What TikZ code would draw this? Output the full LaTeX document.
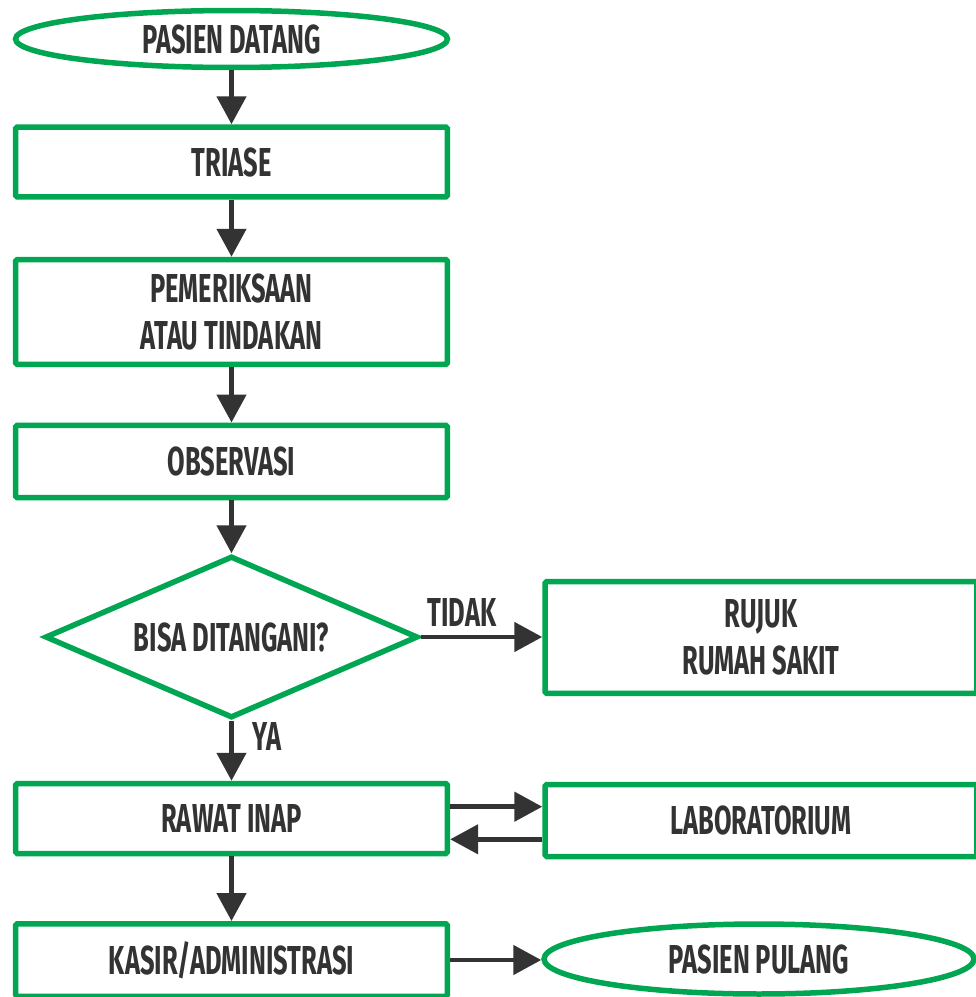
\documentclass[tikz,border=0pt]{standalone}
\usepackage{fontspec}
\setmainfont[FakeStretch=0.63]{Fira Sans}
\usetikzlibrary{shapes.geometric,arrows.meta}
\definecolor{hijau}{HTML}{00A651}
\definecolor{gelap}{HTML}{333333}
\newcommand\hurufalur{\bfseries\fontsize{23}{27}\selectfont}

\begin{document}
\begin{tikzpicture}[x=0.02cm,y=-0.02cm]
\tikzstyle{every node}+=[inner sep=0pt, text=gelap, font=\hurufalur, align=center]
\tikzstyle{kotak}=[draw=hijau, line width=0.11cm, rounded corners=1pt, fill=white, minimum width=8.64cm, minimum height=1.4cm]
\tikzstyle{elips}=[draw=hijau, line width=0.11cm, ellipse, fill=white]
\tikzstyle{pilih}=[draw=hijau, line width=0.11cm, diamond, aspect=3, fill=white, minimum width=7.46cm, minimum height=3.24cm]
\tikzstyle{panah}=[draw=gelap, line width=0.095cm, -{Triangle[length=0.56cm,width=0.58cm]}]
\fill [white] (0,0) rectangle (976,997);
\useasboundingbox (0,0) rectangle (976,997);
\node [elips, minimum width=8.64cm, minimum height=1.14cm] (datang) at (231.5,39) {PASIEN DATANG};
\node [kotak] (triase) at (231.5,162) {TRIASE};
\node [kotak, minimum height=2.1cm] (periksa) at (231.5,312) {PEMERIKSAAN\\ATAU TINDAKAN};
\node [kotak, minimum height=1.45cm] (observasi) at (231.5,461.5) {OBSERVASI};
\node [pilih] (bisa) at (231.5,637) {BISA DITANGANI?};
\node [kotak, minimum height=2.24cm] (rujuk) at (761,637.5) {RUJUK\\RUMAH SAKIT};
\node [kotak] (rawat) at (231.5,818.5) {RAWAT INAP};
\node [kotak, minimum height=1.44cm] (lab) at (761,820.5) {LABORATORIUM};
\node [kotak, minimum height=1.45cm] (kasir) at (231.5,960) {KASIR/ADMINISTRASI};
\node [elips, minimum width=8.6cm, minimum height=1.4cm] (pulang) at (759,959) {PASIEN PULANG};
\draw [panah] (datang) -- (triase);
\draw [panah] (triase) -- (periksa);
\draw [panah] (periksa) -- (observasi);
\draw [panah] (observasi) -- (bisa);
\draw [panah] (bisa.east) -- node [pos=0.34, above=0.16cm] {TIDAK} (bisa.east -| rujuk.west);
\draw [panah] (bisa.south) -- node [pos=0, anchor=north west, xshift=0.37cm, yshift=0.02cm] {YA} (rawat.north);
\draw [panah] ([yshift=0.236cm]rawat.east) -- ([yshift=0.236cm]rawat.east -| lab.west);
\draw [panah] ([yshift=-0.416cm]rawat.east -| lab.west) -- ([yshift=-0.416cm]rawat.east);
\draw [panah] (rawat) -- (kasir);
\draw [panah] (kasir.east) -- (kasir.east -| pulang.west);
\end{tikzpicture}
\end{document}
